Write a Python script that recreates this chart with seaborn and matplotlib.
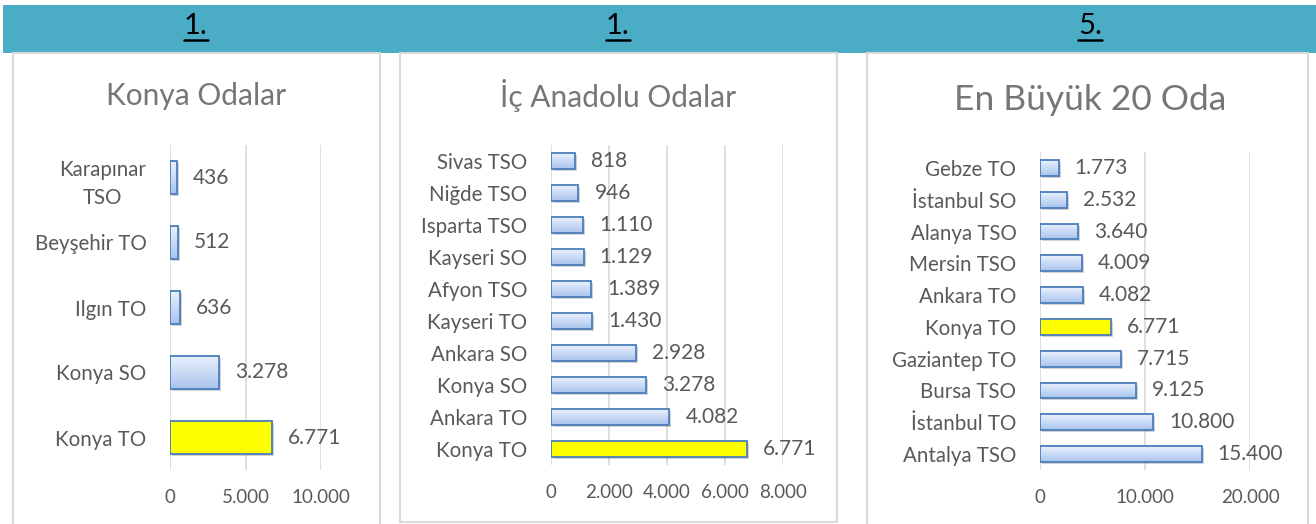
import matplotlib
matplotlib.use("Agg")
import matplotlib.pyplot as plt
import seaborn as sns
import numpy as np
import pandas as pd
from matplotlib.patches import Rectangle
from matplotlib.lines import Line2D
from matplotlib.colors import LinearSegmentedColormap
import matplotlib.transforms as mtransforms

# ---------------- data ----------------
konya_cats = ["Karapınar\nTSO", "Beyşehir TO", "Ilgın TO", "Konya SO", "Konya TO"]
konya_vals = [436, 512, 636, 3278, 6771]
konya_ticks = [0, 5000, 10000]

ic_cats = ["Sivas TSO", "Niğde TSO", "Isparta TSO", "Kayseri SO", "Afyon TSO",
           "Kayseri TO", "Ankara SO", "Konya SO", "Ankara TO", "Konya TO"]
ic_vals = [818, 946, 1110, 1129, 1389, 1430, 2928, 3278, 4082, 6771]
ic_ticks = [0, 2000, 4000, 6000, 8000]

big_cats = ["Gebze TO", "İstanbul SO", "Alanya TSO", "Mersin TSO", "Ankara TO",
            "Konya TO", "Gaziantep TO", "Bursa TSO", "İstanbul TO", "Antalya TSO"]
big_vals = [1773, 2532, 3640, 4009, 4082, 6771, 7715, 9125, 10800, 15400]
big_ticks = [0, 10000, 20000]

titles = ["Konya Odalar", "İç Anadolu Odalar", "En Büyük 20 Oda"]
ranks = ["1.", "1.", "5."]
highlight = "Konya TO"

# ---------------- style ----------------
sns.set_theme(style="white")
plt.rcParams["font.family"] = ["Lato", "DejaVu Sans"]

W, H = 1316, 524
fig = plt.figure(figsize=(W / 100, H / 100), dpi=100)
fig.patch.set_facecolor("white")

TEXT = "#595959"
GRID = "#d9d9d9"
EDGE = "#4a7ebb"
cmap = LinearSegmentedColormap.from_list("g", ["#eaf1fd", "#a9c4ee"])


def fig_rect(x0, y0, x1, y1, **kw):
    r = Rectangle((x0 / W, 1 - y1 / H), (x1 - x0) / W, (y1 - y0) / H,
                  transform=fig.transFigure, **kw)
    fig.patches.append(r)
    return r


# banner
fig_rect(3, 5, 1316, 53, facecolor="#4bacc6", edgecolor="none", zorder=0)
# panel borders
fig_rect(13, 53, 380, 540, facecolor="none", edgecolor=GRID, lw=1.5, zorder=1)
fig_rect(400, 53, 837, 522, facecolor="none", edgecolor=GRID, lw=1.5, zorder=1)
fig_rect(867, 53, 1308, 540, facecolor="none", edgecolor=GRID, lw=1.5, zorder=1)

panels = [
    dict(cats=konya_cats, vals=konya_vals, ticks=konya_ticks,
         box=(170, 145, 321, 470), cx=196, ty=96, tfs=21.5),
    dict(cats=ic_cats, vals=ic_vals, ticks=ic_ticks,
         box=(551, 145, 783, 465), cx=618, ty=96, tfs=21.5),
    dict(cats=big_cats, vals=big_vals, ticks=big_ticks,
         box=(1040, 152, 1250, 470), cx=1090, ty=100, tfs=25.5),
]

renderer = fig.canvas.get_renderer()

for i, p in enumerate(panels):
    x0, y0, x1, y1 = p["box"]
    ax = fig.add_axes([x0 / W, 1 - y1 / H, (x1 - x0) / W, (y1 - y0) / H])
    df = pd.DataFrame({"cat": p["cats"], "val": p["vals"]})
    pal = {c: ("#ffff00" if c == highlight else "#c6d9f7") for c in p["cats"]}
    sns.barplot(data=df, x="val", y="cat", hue="cat", palette=pal, legend=False,
                orient="h", width=0.5, ax=ax, saturation=1,
                edgecolor=EDGE, linewidth=1.3)
    ax.set_xlim(0, p["ticks"][-1])
    ax.set_ylim(len(p["cats"]) - 0.5, -0.5)
    ax.set_xticks(p["ticks"])
    ax.set_xticklabels([f"{t:,}".replace(",", ".") for t in p["ticks"]])
    ax.set_xlabel("")
    ax.set_ylabel("")
    ax.set_axisbelow(True)
    ax.grid(axis="x", color=GRID, lw=1.2)
    ax.grid(axis="y", visible=False)
    for s in ax.spines.values():
        s.set_visible(False)
    ax.tick_params(axis="both", length=0, colors=TEXT)
    ax.tick_params(axis="y", pad=17, labelsize=14.8)
    ax.tick_params(axis="x", pad=14, labelsize=13.5)
    for lbl in ax.get_yticklabels():
        lbl.set_multialignment("center")
        lbl.set_linespacing(1.55)
    ax.patch.set_alpha(0)

    shadow_tr = mtransforms.offset_copy(ax.transData, fig=fig, x=2, y=-2, units="dots")
    bars = [b for b in ax.patches]
    for b, c, v in zip(bars, p["cats"], p["vals"]):
        bx, by, bw, bh = b.get_x(), b.get_y(), b.get_width(), b.get_height()
        sh = Rectangle((bx, by), bw, bh, transform=shadow_tr, facecolor="#7f7f7f",
                       alpha=0.35, edgecolor="none", zorder=0.8)
        ax.add_patch(sh)
        b.set_zorder(1.2)
        if c != highlight:
            b.set_facecolor("none")
            grad = np.linspace(0, 1, 64).reshape(-1, 1)
            im = ax.imshow(grad, extent=(bx, bx + bw, by + bh, by), origin="upper",
                           aspect="auto", cmap=cmap, zorder=1.1, interpolation="bilinear")
            im.set_clip_path(b)
        ax.annotate(f"{v:,}".replace(",", "."), xy=(bx + bw, by + bh / 2),
                    xytext=(11.5, 0), textcoords="offset points", ha="left",
                    va="center", fontsize=15, color=TEXT, annotation_clip=False)
    ax.set_xlim(0, p["ticks"][-1])
    ax.set_ylim(len(p["cats"]) - 0.5, -0.5)
    ax.set_aspect("auto")

    # title
    fig.text(p["cx"] / W, 1 - p["ty"] / H, titles[i], ha="center", va="center",
             fontsize=p["tfs"], color="#767676")
    # rank number in banner, underlined
    t = fig.text(p["cx"] / W, 1 - 26 / H, ranks[i], ha="center", va="center",
                 fontsize=21, color="black")
    bb = t.get_window_extent(renderer)
    fig.lines.append(Line2D([bb.x0 / W, bb.x1 / W], [1 - 40 / H, 1 - 40 / H],
                            transform=fig.transFigure, color="black", lw=1.8))

fig.savefig("out.png", dpi=100, facecolor="white")
